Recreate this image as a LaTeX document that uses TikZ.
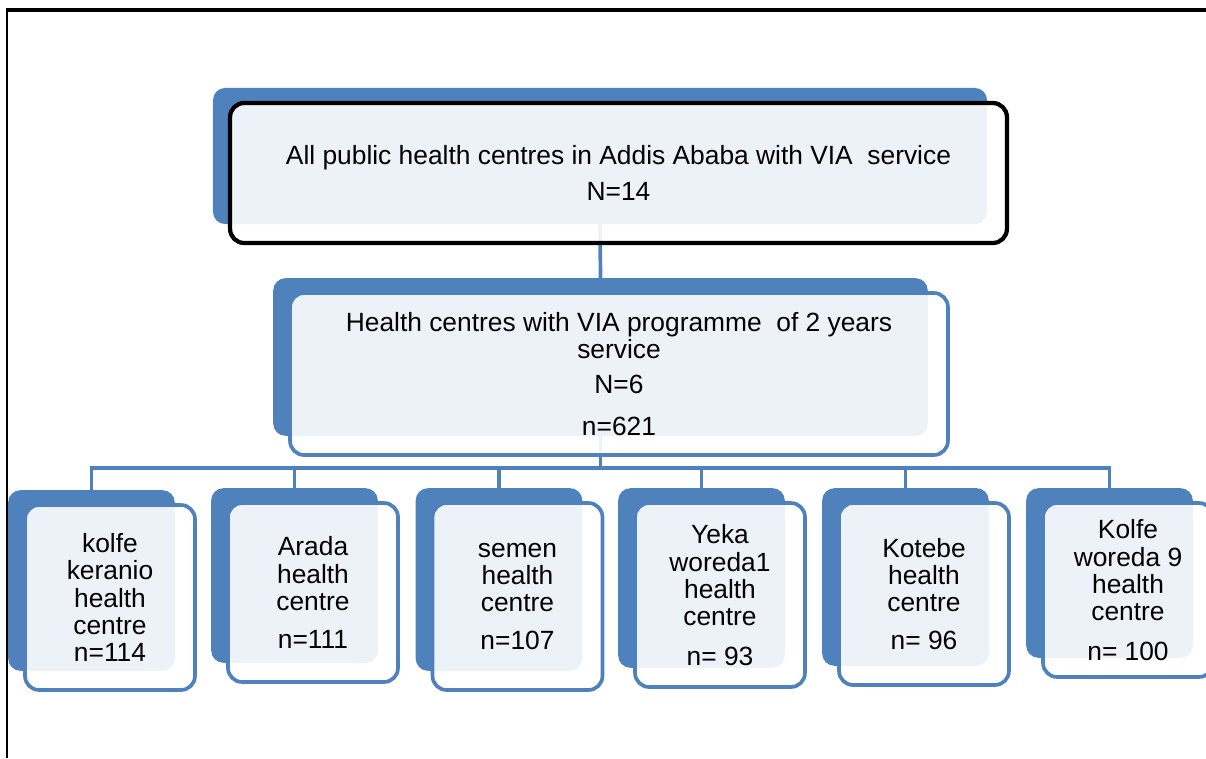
\documentclass[tikz,border=0pt]{standalone}
\usepackage{fontspec}
\setmainfont{Liberation Sans}
\usetikzlibrary{calc,fit,backgrounds}
\definecolor{ppblue}{RGB}{79,129,189}

\begin{document}
\begin{tikzpicture}[
        x=0.02cm, y=-0.02cm,
        every node/.style={align=center, font=\fontsize{15}{15.5}\selectfont},
        front/.style={draw=ppblue, line width=2.1pt, rounded corners=8pt, fill=white, fill opacity=0.9, text opacity=1, minimum width=3.4cm},
        toplevel/.style={front, draw=black, line width=2.4pt},
        back/.style={fill=ppblue, rounded corners=7pt, inner sep=0pt},
        link/.style={draw=ppblue, line width=2.1pt}
    ]
    \useasboundingbox (0,0) rectangle (1206,758);

    % frame
    \draw[line width=1.4pt] (7,758) -- (7,10);
    \draw[line width=1.8pt] (6.3,10) -- (1206,10);

    % Nodes
    \node[toplevel, minimum width=15.54cm, minimum height=2.8cm] (allhc) at (618.5,173)
        {All public health centres in Addis Ababa with VIA \ service \\[5pt] N=14};
    \node[front, minimum width=13.16cm, minimum height=3.24cm] (via) at (619,374)
        {Health centres with VIA programme \ of 2 years \\ service \\[4.5pt] N=6 \\[8.5pt] n=621};

    \node[front, minimum height=3.7cm] (kolfe) at (110,597.5)
        {kolfe \\ keranio \\ health \\ centre \\ n=114};
    \node[front, minimum height=3.58cm] (arada) at (313,592.5)
        {Arada \\ health \\ centre \\[6pt] n=111};
    \node[front, minimum height=3.74cm] (semen) at (517.5,596.5)
        {semen \\ health \\ centre \\[6pt] n=107};
    \node[front, minimum height=3.68cm] (yeka) at (720,595)
        {Yeka \\ woreda1 \\ health \\ centre \\[7pt] n= 93};
    \node[front, minimum height=3.64cm] (kotebe) at (924,594)
        {Kotebe \\ health \\ centre \\[6pt] n= 96};
    \node[front, minimum height=3.48cm] (kolfenine) at (1128,590)
        {Kolfe \\ woreda 9 \\ health \\ centre \\[7pt] n= 100};

    \begin{scope}[on background layer]
        % blue shapes behind each box
        \foreach \n in {allhc,via,kolfe,arada,semen,yeka,kotebe,kolfenine}
            \node[back, fit={($(\n.north west)+(-15,-13)$) ($(\n.south east)+(-22,-21)$)}] (\n-bk) {};

        % Connectors
        \coordinate (bar) at (600,468);
        \draw[link] (allhc-bk.south) -- (via-bk.north);
        \draw[link] (via-bk.south) -- (via-bk.south |- bar);
        \foreach \n in {kolfe,arada,semen,yeka,kotebe,kolfenine}
            \draw[link] (via-bk.south |- bar) -| (\n-bk.north);
    \end{scope}
\end{tikzpicture}
\end{document}
